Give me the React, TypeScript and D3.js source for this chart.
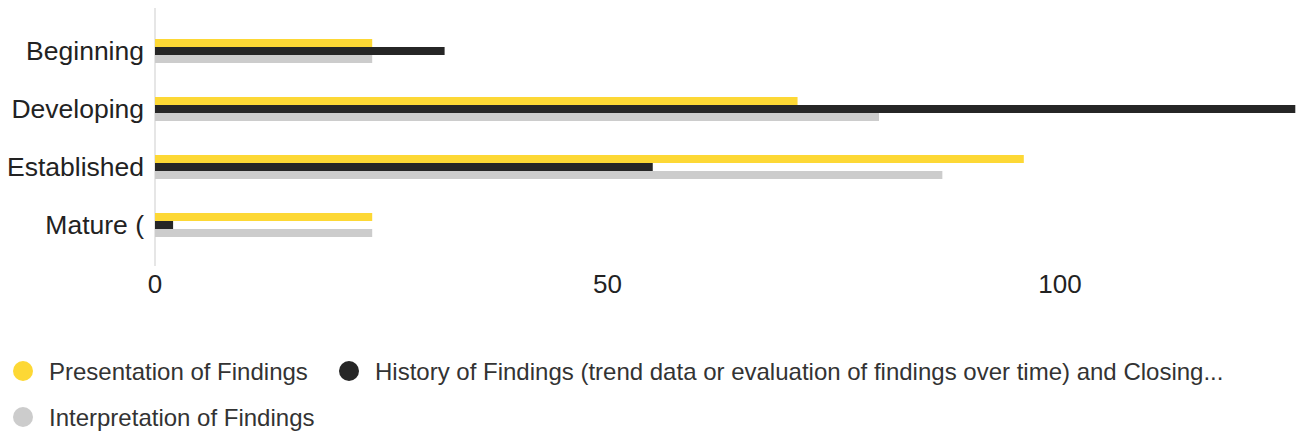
import { useEffect, useRef } from 'react';
import * as d3 from 'd3';

const categories = ['Beginning', 'Developing', 'Established', 'Mature ('];
const seriesNames = [
    'Presentation of Findings',
    'History of Findings (trend data or evaluation of findings over time) and Closing...',
    'Interpretation of Findings',
];
const presentation = [24, 71, 96, 24];
const history = [32, 126, 55, 2];
const interpretation = [24, 80, 87, 24];
const xTicks = [0, 50, 100];

const colors = ['#fdd835', '#262626', '#cccccc'];

export default function App() {
    const svgRef = useRef<SVGSVGElement>(null);
    const width = 1296;
    const height = 433;

    useEffect(() => {
        if (!svgRef.current) return;
        const svg = d3.select(svgRef.current);
        svg.selectAll('*').remove();

        const font = 'Arial, "Liberation Sans", sans-serif';
        const values = [presentation, history, interpretation];

        const x = d3.scaleLinear().domain([0, 100]).range([155, 1060]);
        const y = d3.scaleBand<string>().domain(categories).range([22, 254]);
        const groupH = 24;
        const inner = d3.scaleBand<number>().domain([0, 1, 2]).range([0, groupH]);
        const offset = (y.bandwidth() - groupH) / 2;

        // axis line
        svg.append('line')
            .attr('x1', x(0)).attr('x2', x(0))
            .attr('y1', 8).attr('y2', 266)
            .attr('stroke', '#e6e6e6')
            .attr('stroke-width', 2);

        // bars
        values.forEach((vals, s) => {
            svg.append('g')
                .selectAll('rect')
                .data(vals)
                .enter()
                .append('rect')
                .attr('x', x(0))
                .attr('y', (_, i) => (y(categories[i]) as number) + offset + (inner(s) as number))
                .attr('width', d => x(d) - x(0))
                .attr('height', inner.bandwidth())
                .attr('fill', colors[s]);
        });

        // category labels
        svg.append('g')
            .selectAll('text')
            .data(categories)
            .enter()
            .append('text')
            .attr('x', 144)
            .attr('y', d => (y(d) as number) + y.bandwidth() / 2)
            .attr('dy', '0.35em')
            .attr('text-anchor', 'end')
            .attr('font-family', font)
            .attr('font-size', 26.5)
            .attr('fill', '#222')
            .text(d => d);

        // x tick labels
        svg.append('g')
            .selectAll('text')
            .data(xTicks)
            .enter()
            .append('text')
            .attr('x', d => x(d))
            .attr('y', 293)
            .attr('text-anchor', 'middle')
            .attr('font-family', font)
            .attr('font-size', 26)
            .attr('fill', '#222')
            .text(d => d);

        // legend
        const legendPos = [
            { cx: 23, cy: 371 },
            { cx: 349, cy: 371 },
            { cx: 23, cy: 417 },
        ];
        const legend = svg.append('g');
        seriesNames.forEach((name, i) => {
            const p = legendPos[i];
            legend.append('circle')
                .attr('cx', p.cx)
                .attr('cy', p.cy)
                .attr('r', 10)
                .attr('fill', colors[i]);
            legend.append('text')
                .attr('x', p.cx + 26)
                .attr('y', p.cy + 9)
                .attr('font-family', font)
                .attr('font-size', 24)
                .attr('fill', '#333')
                .text(name);
        });
    }, []);

    return (
        <>
            <style>{`body{margin:0}`}</style>
            <svg ref={svgRef} width={width} height={height} style={{ display: 'block', background: '#fff' }} />
        </>
    );
}
